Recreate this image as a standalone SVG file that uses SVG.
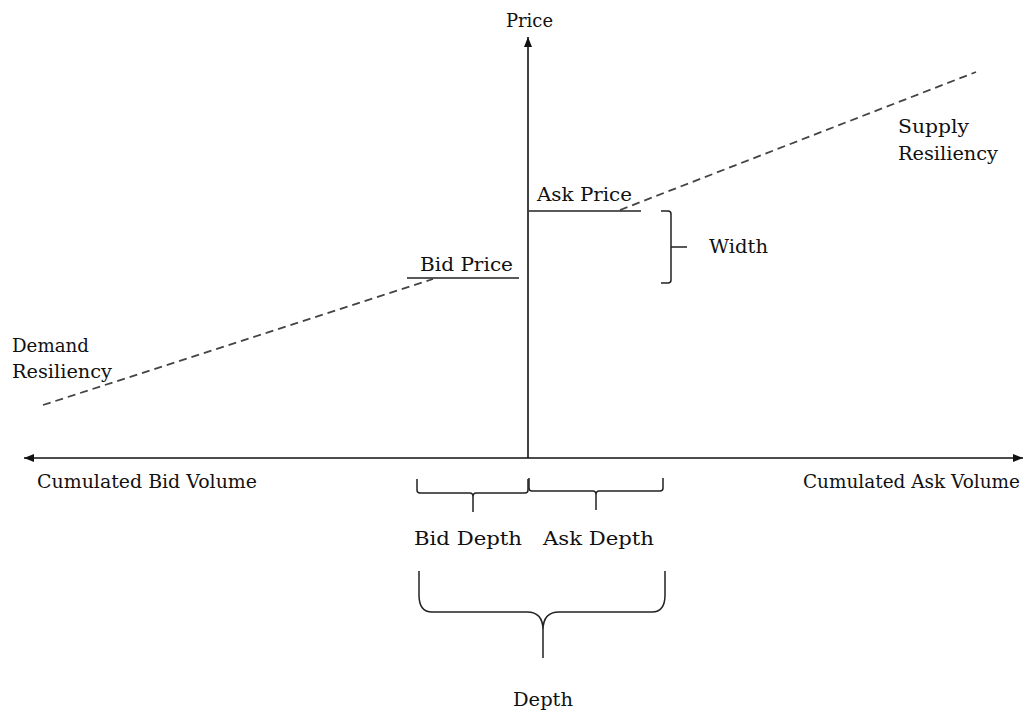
<svg xmlns="http://www.w3.org/2000/svg" width="1024" height="715" viewBox="0 0 1024 715">
<style>
text{font-family:"DejaVu Serif","Liberation Serif",serif;font-size:18.5px;fill:#111}
.ax{stroke:#111;stroke-width:1.6;fill:none}
.ln{stroke:#222;stroke-width:1.5;fill:none}
.dash{stroke:#444;stroke-width:1.8;stroke-dasharray:8 5;fill:none}
.br{stroke:#222;stroke-width:1.5;fill:none}
</style>
<defs>
<marker id="arr" viewBox="0 0 10 10" refX="10" refY="5" markerWidth="10" markerHeight="10" markerUnits="userSpaceOnUse" orient="auto">
<path d="M0,1 L10,5 L0,9 Z" fill="#111"/>
</marker>
</defs>
<rect width="1024" height="715" fill="#fff"/>
<g id="connectors">
<line class="ax" x1="528" y1="458" x2="528" y2="37" marker-end="url(#arr)"/>
<line class="ax" x1="528" y1="458" x2="24" y2="458" marker-end="url(#arr)"/>
<line class="ax" x1="528" y1="458" x2="1023" y2="458" marker-end="url(#arr)"/>
<line class="dash" x1="620" y1="210" x2="976" y2="72"/>
<line class="dash" x1="43" y1="405" x2="433" y2="279"/>
</g>
<g id="price-label"><text x="506" y="27" textLength="47" lengthAdjust="spacingAndGlyphs">Price</text></g>
<g id="ask-price">
<line class="ln" x1="529" y1="211" x2="641" y2="211"/>
<text x="537" y="201" textLength="95" lengthAdjust="spacingAndGlyphs">Ask Price</text>
</g>
<g id="bid-price">
<line class="ln" x1="407" y1="278" x2="519" y2="278"/>
<text x="420" y="271" textLength="93" lengthAdjust="spacingAndGlyphs">Bid Price</text>
</g>
<g id="supply-resiliency">
<text x="898" y="133" textLength="71" lengthAdjust="spacingAndGlyphs">Supply</text>
<text x="898" y="160" textLength="100" lengthAdjust="spacingAndGlyphs">Resiliency</text>
</g>
<g id="demand-resiliency">
<text x="12" y="352" textLength="77" lengthAdjust="spacingAndGlyphs">Demand</text>
<text x="12" y="378" textLength="100" lengthAdjust="spacingAndGlyphs">Resiliency</text>
</g>
<g id="width">
<path class="br" d="M661,211 H668 Q671,211 671,214 V280 Q671,283 668,283 H661 M671,247 H687"/>
<text x="709" y="253" textLength="59" lengthAdjust="spacingAndGlyphs">Width</text>
</g>
<g id="bid-volume"><text x="37" y="488" textLength="220" lengthAdjust="spacingAndGlyphs">Cumulated Bid Volume</text></g>
<g id="ask-volume"><text x="803" y="488" textLength="217" lengthAdjust="spacingAndGlyphs">Cumulated Ask Volume</text></g>
<g id="bid-depth">
<path class="br" d="M417,479 V490 Q417,493 420,493 H470 Q473,493 473,497 V512 M473,497 Q473,493 476,493 H525 Q528,493 528,490 V479"/>
<text x="414" y="545" textLength="108" lengthAdjust="spacingAndGlyphs">Bid Depth</text>
</g>
<g id="ask-depth">
<path class="br" d="M529,478 V488 Q529,491 532,491 H593 Q596,491 596,495 V510 M596,495 Q596,491 599,491 H660 Q663,491 663,488 V478"/>
<text x="543" y="545" textLength="111" lengthAdjust="spacingAndGlyphs">Ask Depth</text>
</g>
<g id="depth">
<path class="br" d="M419,571 V595 Q419,612 432,612 H527 Q543,612 543,630 V658 M543,630 Q543,612 559,612 H652 Q665,612 665,595 V571"/>
<text x="513" y="706" textLength="60" lengthAdjust="spacingAndGlyphs">Depth</text>
</g>
</svg>
